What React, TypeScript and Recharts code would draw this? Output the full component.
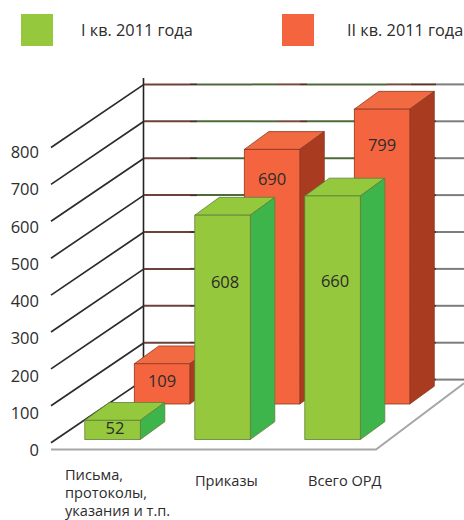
import { Bar, BarChart, CartesianGrid, Legend, LabelList, XAxis, YAxis } from 'recharts'

const categories = [['Письма,', 'протоколы,', 'указания и т.п.'], ['Приказы'], ['Всего ОРД']]
const q1Values = [52, 608, 660]
const q2Values = [109, 690, 799]
const yTicks = [0, 100, 200, 300, 400, 500, 600, 700, 800]

const q1Name = 'I кв. 2011 года'
const q2Name = 'II кв. 2011 года'

// Layout constants for the fake 3D look
const FONT = '"Open Sans", sans-serif'
const TEXT = '#2c2c2c'
const BAR_W = 55.5
const DEPTH_X = 24.5
const DEPTH_Y = 17.8
const BACK_X = 49.5
const BACK_Y = 35.5
const BASE_Y = 439.5

const greenFaces = { front: '#95c83d', top: '#94c93e', side: '#3eb54a', edge: '#5f7f3c' }
const orangeFaces = { front: '#f4653f', top: '#f26a42', side: '#a93c20', edge: '#8b3a22' }

// label offsets from the top of each front face
const q1LabelDy = [8.5, 67, 86]
const q2LabelDy = [18, 30, 36]

// left edge of each category caption
const xTickLeft = [65, 195, 308]

// tinted stretches of the back wall lines
const wallSegments: [number, number, string][] = [
  [144, 190, '#6e4238'],
  [190, 197, '#43332b'],
  [197, 252, '#4d6b3a'],
  [252, 277, '#4d6b3a'],
  [277, 300, '#7a4a40'],
  [300, 307, '#5e3028'],
  [307, 387, '#4d6b3a'],
  [387, 411, '#7a4a40'],
  [411, 436, '#5e3028'],
  [436, 464, '#7d7d7d'],
]

function box3d(faces: typeof greenFaces, shiftX: number, shiftY: number) {
  return (props: any) => {
    const x = props.x + shiftX
    const y = props.y + shiftY
    const w = props.width
    const h = props.height
    const stroke = { stroke: faces.edge, strokeWidth: 0.8 }
    return (
      <g>
        <polygon
          points={`${x},${y} ${x + DEPTH_X},${y - DEPTH_Y} ${x + w + DEPTH_X},${y - DEPTH_Y} ${x + w},${y}`}
          fill={faces.top}
          {...stroke}
        />
        <polygon
          points={`${x + w},${y} ${x + w + DEPTH_X},${y - DEPTH_Y} ${x + w + DEPTH_X},${y + h - DEPTH_Y} ${x + w},${y + h}`}
          fill={faces.side}
          {...stroke}
        />
        <rect x={x} y={y} width={w} height={h} fill={faces.front} {...stroke} />
      </g>
    )
  }
}

function WallLine(props: any) {
  const { y1 } = props
  const backY = y1 - 59.9
  const isFloor = Math.abs(y1 - BASE_Y) < 1
  return (
    <g>
      {wallSegments.map(([a, b, color]) => (
        <line key={a} x1={a} x2={b} y1={backY} y2={backY} stroke={color} strokeWidth={2} />
      ))}
      <line x1={51} y1={y1 + 3.2} x2={144} y2={backY} stroke="#2b2b2b" strokeWidth={1.7} />
      {isFloor && (
        <>
          <line x1={143.5} y1={78} x2={143.5} y2={backY} stroke="#222" strokeWidth={1.6} />
          <polyline points="51,449.5 376,449.5 464,383.3" fill="none" stroke="#a6a6a6" strokeWidth={2} />
        </>
      )}
    </g>
  )
}

function YTick({ y, payload }: any) {
  // the printed numbers sit on a slightly wider scale than the wall
  const labelY = 450.3 - (BASE_Y - y) * 1.0105
  return (
    <text x={39} y={labelY} dy={6} textAnchor="end" fontFamily={FONT} fontSize={16.5} fill={TEXT}>
      {payload.value}
    </text>
  )
}

function XTick({ index }: any) {
  const lines = categories[index]
  const left = xTickLeft[index]
  const top = lines.length > 1 ? 479.5 : 486
  return (
    <text x={left} y={top} fontFamily={FONT} fontSize={14.6} fill={TEXT}>
      {lines.map((line, i) => (
        <tspan key={line} x={left} y={top + i * 18.4}>
          {line}
        </tspan>
      ))}
    </text>
  )
}

function valueLabel(offsets: number[], shiftX: number, shiftY: number) {
  return (props: any) => (
    <text
      x={props.x + props.width / 2 + shiftX}
      y={props.y + shiftY + offsets[props.index]}
      dy={5.5}
      textAnchor="middle"
      fontFamily={FONT}
      fontSize={16.5}
      fill={TEXT}
    >
      {props.value}
    </text>
  )
}

function LegendBlocks() {
  const items = [
    { name: q1Name, color: greenFaces.front, box: 21, label: 81 },
    { name: q2Name, color: orangeFaces.front, box: 282, label: 347 },
  ]
  return (
    <div style={{ position: 'relative', height: 0 }}>
      {items.map((it) => (
        <div key={it.name}>
          <div style={{ position: 'absolute', left: it.box, top: 14, width: 32, height: 32, background: it.color }} />
          <div
            style={{
              position: 'absolute',
              left: it.label,
              top: 20,
              fontFamily: FONT,
              fontSize: 16.3,
              lineHeight: '20px',
              color: TEXT,
              whiteSpace: 'nowrap',
            }}
          >
            {it.name}
          </div>
        </div>
      ))}
    </div>
  )
}

const data = categories.map((c, i) => ({ name: c.join(' '), q1: q1Values[i], q2: q2Values[i] }))

export default function App() {
  return (
    <div style={{ position: 'absolute', left: 0, top: 0, width: 464, height: 520, overflow: 'hidden' }}>
      <BarChart
        width={464}
        height={520}
        data={data}
        barSize={BAR_W}
        barGap={-BAR_W}
        barCategoryGap={0}
        margin={{ top: 144.3, right: 76.2, bottom: 0, left: 0 }}
      >
        <CartesianGrid vertical={false} horizontal={(p: any) => <WallLine key={p.key} {...p} />} />
        <XAxis dataKey="name" height={80.5} axisLine={false} tickLine={false} interval={0} tick={XTick} />
        <YAxis width={57.8} domain={[0, 800]} ticks={yTicks} axisLine={false} tickLine={false} tick={YTick} />
        <Legend verticalAlign="top" content={LegendBlocks} wrapperStyle={{ top: 0, left: 0, width: 464 }} />
        <Bar dataKey="q2" name={q2Name} fill={orangeFaces.front} isAnimationActive={false} shape={box3d(orangeFaces, BACK_X, -BACK_Y)}>
          <LabelList dataKey="q2" content={valueLabel(q2LabelDy, BACK_X, -BACK_Y)} />
        </Bar>
        <Bar dataKey="q1" name={q1Name} fill={greenFaces.front} isAnimationActive={false} shape={box3d(greenFaces, 0, 0)}>
          <LabelList dataKey="q1" content={valueLabel(q1LabelDy, 2.5, 0)} />
        </Bar>
      </BarChart>
    </div>
  )
}
